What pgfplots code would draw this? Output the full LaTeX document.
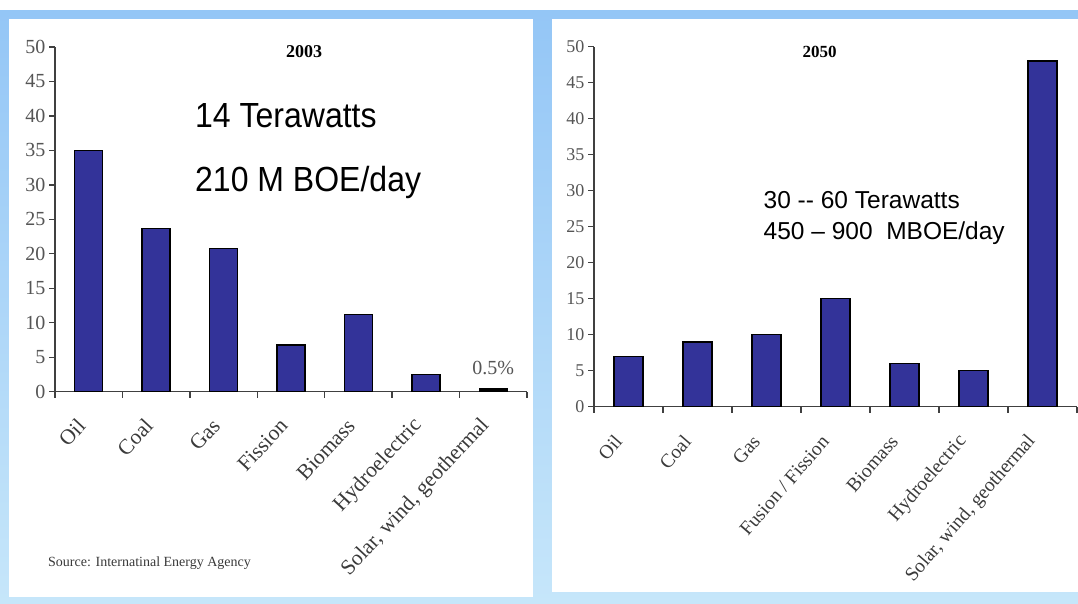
\documentclass[border=0pt]{standalone}
\usepackage{fontspec}
\setmainfont{Liberation Serif}
\newfontfamily\arialfont{Liberation Sans}
\usepackage{pgfplots}
\pgfplotsset{compat=1.18}

\definecolor{barblue}{HTML}{333399}
\definecolor{axisgray}{HTML}{404040}
\definecolor{ticktext}{HTML}{555555}
\definecolor{cattext}{HTML}{3A3A3A}
\definecolor{bandtop}{HTML}{94C6F6}
\definecolor{bandbot}{HTML}{C6E6FA}

\pgfplotsset{
  energybars/.style={
    scale only axis,
    anchor=south west,
    xmin=-0.5, xmax=6.5, ymin=0, ymax=50,
    axis x line=bottom, axis y line=left,
    axis line style={-, draw=axisgray, line width=1.3pt},
    tick style={draw=axisgray, line width=1.3pt},
    tick align=outside,
    major tick length=6pt,
    ytick={0,5,...,50},
    xtick={-0.5,0.5,...,6.5},
    xticklabels={},
    /pgf/number format/assume math mode=true,
    yticklabel style={text=ticktext},
    xticklabel style={text=cattext, anchor=east},
    extra x ticks={0,1,2,3,4,5,6},
    extra x tick style={grid=none, major tick length=0pt},
    clip=false,
  },
}

\begin{document}
\begin{tikzpicture}[x=1pt,y=1pt]
\useasboundingbox (0,0) rectangle (1078,603);
% frame and the two white panels
\fill[white] (0,0) rectangle (1078,603);
\shade[top color=bandtop, bottom color=bandbot] (0,0) rectangle (1078,592);
\fill[white] (9,6) rectangle (533,584);
\fill[white] (552,11) rectangle (1078,584);

% 2003 shares
\begin{axis}[energybars,
  at={(55pt,211.3pt)}, width=472pt, height=344.7pt,
  yticklabel style={font=\fontsize{20}{20}\selectfont},
  xticklabel style={font=\fontsize{21.5}{21.5}\selectfont, yshift=-28pt, xshift=-5pt, rotate=47},
  extra x tick labels={Oil,Coal,Gas,Fission,Biomass,Hydroelectric,{Solar, wind, geothermal}},
]
\addplot[ybar, bar shift=0pt, bar width=28pt, fill=barblue, draw=black, line width=1.5pt]
  coordinates {(0,35) (1,23.7) (2,20.8) (3,6.8) (4,11.2) (5,2.5)};
\addplot[ybar, bar shift=0pt, bar width=28pt, fill=black, draw=black, line width=1.5pt]
  coordinates {(6,0.5)};
\node[anchor=south, inner sep=0pt, yshift=13pt, text=ticktext, font=\fontsize{20}{20}\selectfont]
  at (axis cs:6,0.5) {0.5\%};
\end{axis}

% 2050 shares
\begin{axis}[energybars,
  at={(594pt,196.3pt)}, width=483pt, height=360pt,
  yticklabel style={font=\fontsize{18}{18}\selectfont},
  xticklabel style={font=\fontsize{19.5}{19.5}\selectfont, yshift=-29pt, xshift=-8pt, rotate=49},
  extra x tick labels={Oil,Coal,Gas,Fusion / Fission,Biomass,Hydroelectric,{Solar, wind, geothermal}},
]
\addplot[ybar, bar shift=0pt, bar width=29pt, fill=barblue, draw=black, line width=1.5pt]
  coordinates {(0,7) (1,9) (2,10) (3,15) (4,6) (5,5) (6,48)};
\end{axis}

% titles and notes
\node[font=\bfseries\fontsize{18}{18}\selectfont] at (304,551.5) {2003};
\node[anchor=west, inner sep=0pt, yscale=1.09, transform shape, font=\arialfont\fontsize{32}{32}\selectfont] at (195,487) {14 Terawatts};
\node[anchor=west, inner sep=0pt, yscale=1.09, transform shape, font=\arialfont\fontsize{32}{32}\selectfont] at (195,420.5) {210 M BOE/day};
\node[anchor=west, inner sep=0pt, text=cattext, font=\fontsize{14}{14}\selectfont] at (48,40) {Source: Internatinal Energy Agency};

\node[font=\bfseries\fontsize{17}{17}\selectfont] at (819.5,551.5) {2050};
\node[anchor=west, inner sep=0pt, font=\arialfont\fontsize{24.5}{24.5}\selectfont] at (763.5,403) {30 -\kern0pt- 60 Terawatts};
\node[anchor=west, inner sep=0pt, font=\arialfont\fontsize{24.5}{24.5}\selectfont] at (763.5,370) {450 – 900\ \ MBOE/day};
\end{tikzpicture}
\end{document}
